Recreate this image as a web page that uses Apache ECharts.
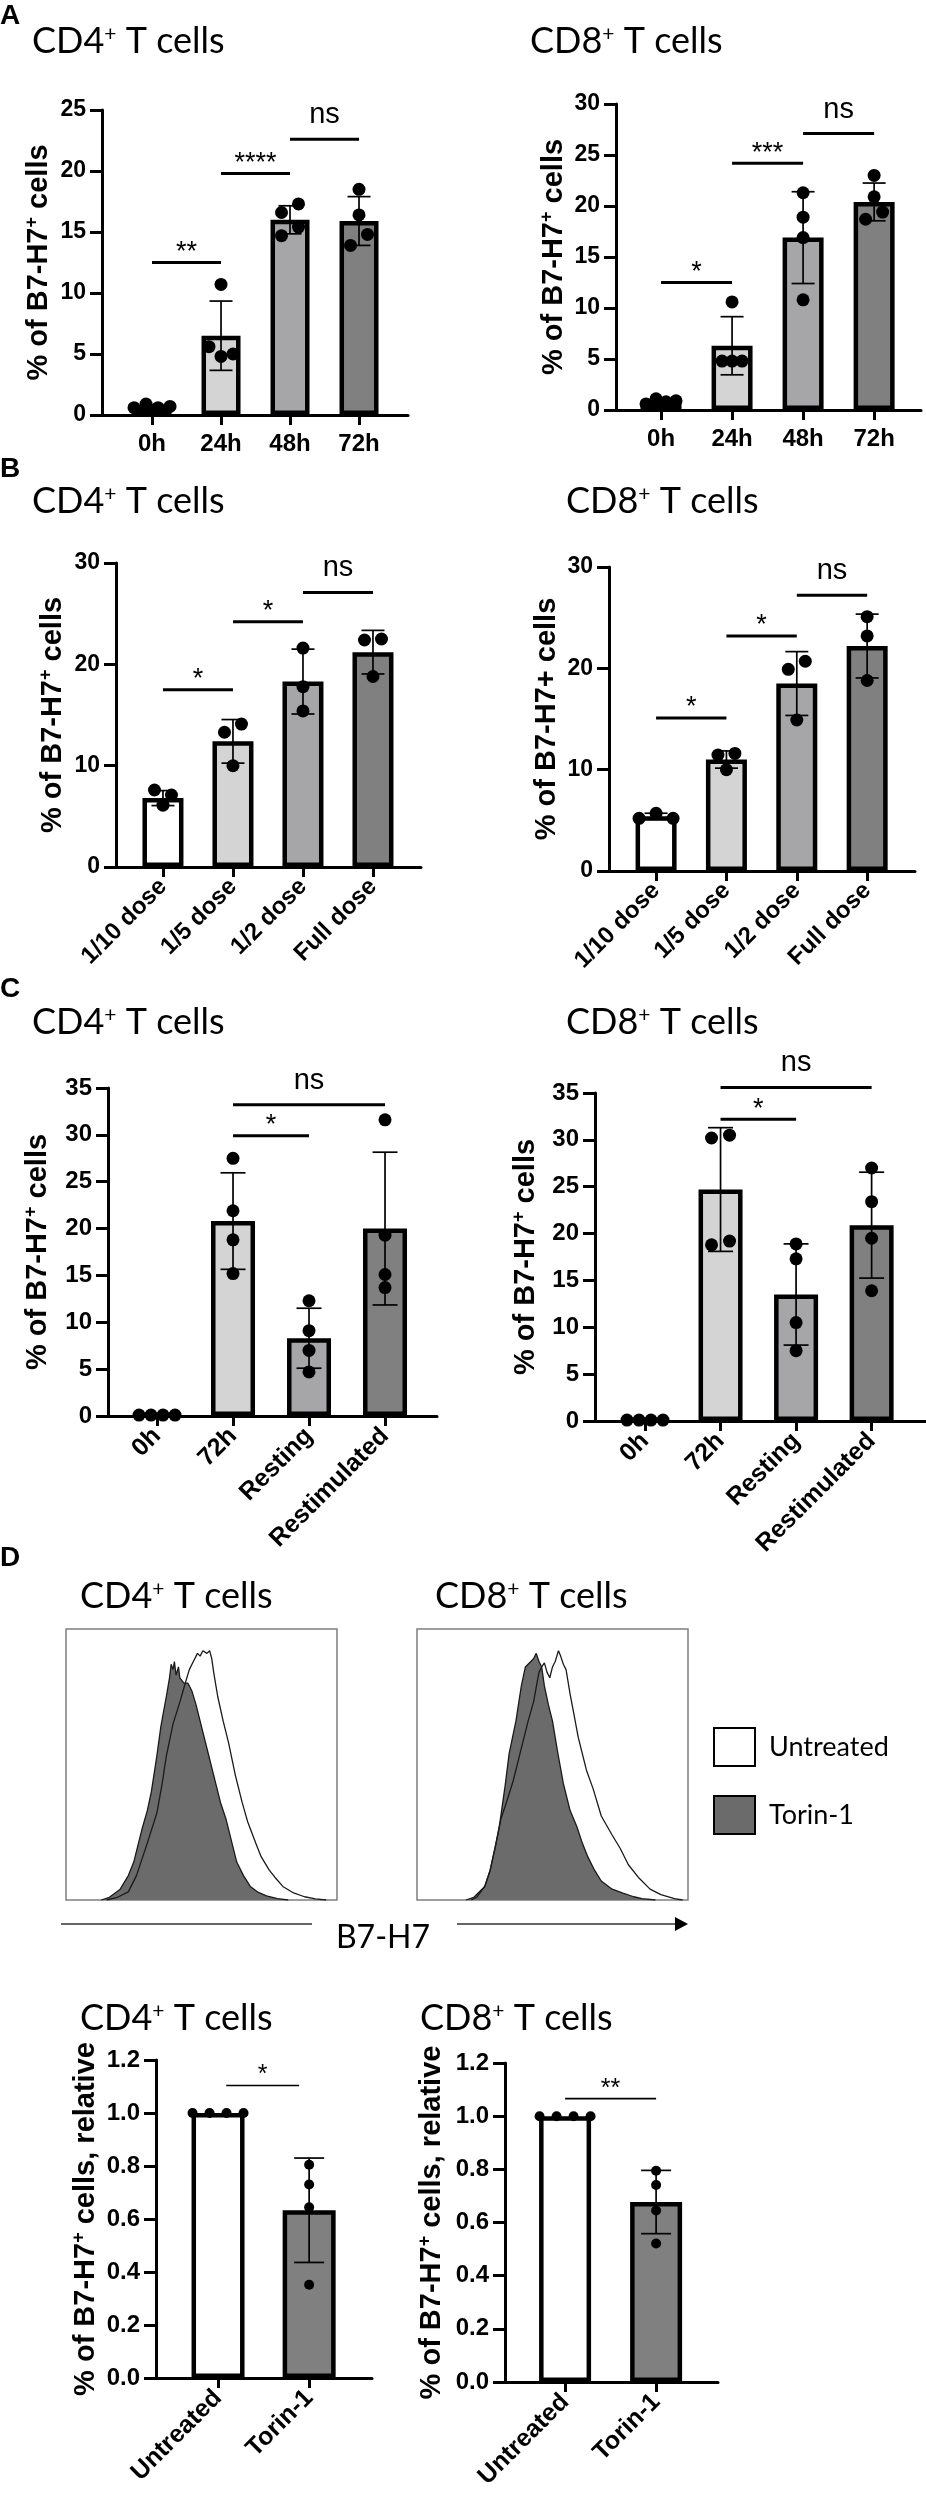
<!DOCTYPE html>
<html><head><meta charset="utf-8">
<script src="https://cdn.jsdelivr.net/npm/echarts@6/dist/echarts.min.js"></script>
<style>html,body{margin:0;padding:0;background:#fff}#c{width:926px;height:2495px}</style>
</head><body><div id="c"></div>
<script>
// ---------------- data ----------------
const catsTime = ['0h', '24h', '48h', '72h'];
const catsDose = ['1/10 dose', '1/5 dose', '1/2 dose', 'Full dose'];
const catsRest = ['0h', '72h', 'Resting', 'Restimulated'];
const catsTorin = ['Untreated', 'Torin-1'];

const barColors4 = ['#ffffff', '#d4d4d4', '#a6a6a9', '#808080'];
const barColors2 = ['#ffffff', '#808080'];

// A
const aCD4Mean = [0.7, 6.5, 16.0, 15.9];
const aCD4SD = [0.15, 2.84, 1.15, 2.0];
const aCD4Dots = [[0.6, 0.9, 0.6, 0.7], [10.7, 5.6, 4.8, 5.0], [16.6, 17.3, 14.7, 15.4], [18.5, 16.4, 13.9, 14.8]];
const aCD4Sig = [[1, 2, 12.5, '**'], [2, 3, 19.8, '****'], [3, 4, 22.6, 'ns']];

const aCD8Mean = [0.8, 6.3, 16.9, 20.4];
const aCD8SD = [0.2, 2.85, 4.5, 1.85];
const aCD8Dots = [[0.6, 1.1, 0.8, 0.9], [10.6, 4.8, 4.8, 4.8], [21.3, 18.9, 16.9, 10.8], [23.0, 20.9, 18.7, 19.4]];
const aCD8Sig = [[1, 2, 12.5, '*'], [2, 3, 24.2, '***'], [3, 4, 27.1, 'ns']];

// B
const bCD4Mean = [6.8, 12.4, 18.3, 21.2];
const bCD4SD = [0.74, 2.15, 3.2, 2.15];
const bCD4Dots = [[7.6, 7.1, 6.1], [13.3, 14.1, 10.0], [21.6, 17.8, 15.4], [22.4, 22.5, 18.8]];
const bCD4Sig = [[1, 2, 17.5, '*'], [2, 3, 24.2, '*'], [3, 4, 27.1, 'ns']];

const bCD8Mean = [5.4, 11.0, 18.5, 22.2];
const bCD8SD = [0.3, 0.85, 3.15, 3.15];
const bCD8Dots = [[5.2, 5.7, 5.2], [11.45, 11.6, 10.0], [19.9, 20.7, 14.9], [25.1, 23.2, 18.8]];
const bCD8Sig = [[1, 2, 15.1, '*'], [2, 3, 23.2, '*'], [3, 4, 27.2, 'ns']];

// C
const cCD4Mean = [0.1, 20.8, 8.3, 20.0];
const cCD4SD = [0, 5.15, 3.2, 8.15];
const cCD4Dots = [[0.1, 0.1, 0.1, 0.1], [27.5, 21.9, 18.8, 15.2], [12.3, 9.1, 7.0, 4.7], [31.6, 19.3, 15.1, 13.7]];
const cCD4Sig = [[2, 3, 29.9, '*'], [2, 4, 33.2, 'ns']];

const cCD8Mean = [0.1, 24.7, 13.5, 20.9];
const cCD8SD = [0, 6.6, 5.4, 5.65];
const cCD8Dots = [[0.1, 0.1, 0.1, 0.1], [30.2, 30.5, 18.8, 19.2], [18.9, 17.3, 10.5, 7.5], [27.0, 23.4, 19.5, 13.9]];
const cCD8Sig = [[2, 3, 32.2, '*'], [2, 4, 35.6, 'ns']];

// D bars
const dCD4Mean = [1.0, 0.633];
const dCD4SD = [0, 0.197];
const dCD4Dots = [[1, 1, 1, 1], [0.805, 0.73, 0.644, 0.352]];
const dCD4Sig = [[1.09, 1.89, 1.104, '*']];

const dCD8Mean = [1.0, 0.677];
const dCD8SD = [0, 0.119];
const dCD8Dots = [[1, 1, 1, 1], [0.795, 0.741, 0.645, 0.521]];
const dCD8Sig = [[1, 2, 1.066, '**']];

// D histograms (x: % of plot width, y: % of plot height)
const histCD4Untreated = [[15,0],[19,1],[23,3],[26,9],[30,21],[33.5,32],[35.5,43],[37,53],[39.5,65],[42,73],[44,80],[45.5,85],[47,88],[48.5,91],[49.5,90],[50.5,92],[52,91],[53,92],[53.8,89],[54.5,84],[56,75],[58,66],[60,58],[62.5,46],[65,36],[67,29],[70,21],[72,16],[75,11],[77,8.5],[80,5],[84,2.6],[88,1.2],[92,0.4],[96,0]];
const histCD4Torin = [[13,0],[16,1],[20,4],[23,9],[25,14],[28,26],[30,33],[31.5,40],[33.5,53],[35,64],[37,75],[38.2,82],[38.8,87],[39.5,85],[40,88],[40.6,83],[41.5,86],[42,82],[43.5,80],[45,80],[46.5,77],[48,72],[50,64],[52,56],[54.5,46],[57,36],[59,30],[61,22],[63,14],[65.5,9],[68,5],[71,2.8],[74,1.5],[78,0.5],[82,0]];
const histCD8Untreated = [[20,0],[22,1],[25,5],[27,11],[30,25],[31,30],[33,36],[35.5,44],[38,54],[41,66],[43,73],[45,84],[46,86],[47,87.5],[48,84],[49,82],[50,86],[51,88],[52.2,92],[53,90],[54,87],[55,85],[56.5,76],[58,68],[59.5,60],[62.5,48],[65,41],[68,31],[72,24],[75,19],[78,13],[82,8],[86,4],[90,2],[95,0.5],[98,0]];
const histCD8Torin = [[18,0],[21,1],[25,5],[27,11],[29,20],[30.5,28],[32.5,42],[34,54],[36.5,66],[38.5,79],[40,86],[41,87],[42,88],[43,89],[44,91],[45,88],[46,86],[47,79],[48.5,72],[50,66],[52,54],[54,43],[56.5,33],[59,27],[61,21],[63,16],[65.5,11],[68,7],[72,4],[76,2.5],[80,1.2],[83,0.5],[88,0]];

// ---------------- layout / styling ----------------
const FONT = '"Liberation Sans", Arial, sans-serif';
const TFONT = 'Lato, "Open Sans", sans-serif';

const supName = (a, b) => '{b|' + a + '}{s|+}{b|' + b + '}';

const panels = [
  {cats: catsTime, mean: aCD4Mean, sd: aCD4SD, dots: aCD4Dots, sig: aCD4Sig, colors: barColors4, yName: supName('% of B7-H7', ' cells'), yMax: 25, yStep: 5,
   L: {left: 102, top: 110, width: 306, height: 305, xMin: 0.275, xMax: 4.71, barW: 39, dot: 13, sp2: 17, spN: 12, cap: 23, nameGap: 47, rotate: 0, margin: 17, lab: 24, tick: 23, sigW: 3, star: 27}},
  {cats: catsTime, mean: aCD8Mean, sd: aCD8SD, dots: aCD8Dots, sig: aCD8Sig, colors: barColors4, yName: supName('% of B7-H7', ' cells'), yMax: 30, yStep: 5,
   L: {left: 616, top: 104, width: 305, height: 306, xMin: 0.366, xMax: 4.66, barW: 41, dot: 13, sp2: 17, spN: 10, cap: 23, nameGap: 46, rotate: 0, margin: 17, lab: 24, tick: 23, sigW: 3, star: 27}},
  {cats: catsDose, mean: bCD4Mean, sd: bCD4SD, dots: bCD4Dots, sig: bCD4Sig, colors: barColors4, yName: supName('% of B7-H7', ' cells'), yMax: 30, yStep: 10,
   L: {left: 116, top: 563, width: 305, height: 304, xMin: 0.329, xMax: 4.686, barW: 41, dot: 13, sp2: 17, spN: 17, cap: 23, nameGap: 47, rotate: 45, margin: 16, lab: 24, tick: 23, sigW: 3, star: 27}},
  {cats: catsDose, mean: bCD8Mean, sd: bCD8SD, dots: bCD8Dots, sig: bCD8Sig, colors: barColors4, yName: '{b|% of B7-H7+ cells}', yMax: 30, yStep: 10,
   L: {left: 609, top: 567, width: 306, height: 304, xMin: 0.331, xMax: 4.68, barW: 41, dot: 13, sp2: 17, spN: 17, cap: 23, nameGap: 46, rotate: 45, margin: 16, lab: 24, tick: 23, sigW: 3, star: 27}},
  {cats: catsRest, mean: cCD4Mean, sd: cCD4SD, dots: cCD4Dots, sig: cCD4Sig, colors: barColors4, yName: supName('% of B7-H7', ' cells'), yMax: 35, yStep: 5,
   L: {left: 108, top: 1088, width: 329, height: 328, xMin: 0.355, xMax: 4.684, barW: 44, dot: 13, sp2: 17, spN: 12, cap: 25, nameGap: 54, rotate: 45, margin: 16, lab: 25, tick: 24, sigW: 3, star: 27}},
  {cats: catsRest, mean: cCD8Mean, sd: cCD8SD, dots: cCD8Dots, sig: cCD8Sig, colors: barColors4, yName: supName('% of B7-H7', ' cells'), yMax: 35, yStep: 5,
   L: {left: 595, top: 1093, width: 331, height: 328, xMin: 0.338, xMax: 4.72, barW: 44, dot: 13, sp2: 18, spN: 12, cap: 25, nameGap: 53, rotate: 45, margin: 16, lab: 25, tick: 24, sigW: 3, star: 27}},
  {cats: catsTorin, mean: dCD4Mean, sd: dCD4SD, dots: dCD4Dots, sig: dCD4Sig, colors: barColors2, yName: supName('% of B7-H7', ' cells, relative'), yMax: 1.2, yStep: 0.2, fmt: v => v.toFixed(1),
   L: {left: 156, top: 2060, width: 216, height: 318, xMin: 0.319, xMax: 2.69, barW: 53, dot: 10, sp2: 17, spN: 17, cap: 30, nameGap: 54, rotate: 45, margin: 16, lab: 25, tick: 24, sigW: 1.6, star: 25}},
  {cats: catsTorin, mean: dCD8Mean, sd: dCD8SD, dots: dCD8Dots, sig: dCD8Sig, colors: barColors2, yName: supName('% of B7-H7', ' cells, relative'), yMax: 1.2, yStep: 0.2, fmt: v => v.toFixed(1),
   L: {left: 505, top: 2063, width: 213, height: 319, xMin: 0.34, xMax: 2.68, barW: 52, dot: 10, sp2: 17, spN: 17, cap: 30, nameGap: 57, rotate: 45, margin: 16, lab: 25, tick: 24, sigW: 1.6, star: 25}}
];

const hists = [
  {untr: histCD4Untreated, torin: histCD4Torin, L: {left: 66, top: 1629, width: 271, height: 271}},
  {untr: histCD8Untreated, torin: histCD8Torin, L: {left: 417, top: 1629, width: 271, height: 271}}
];

const grid = [], xAxis = [], yAxis = [], series = [];

panels.forEach((p, k) => {
  const L = p.L;
  grid.push({left: L.left, top: L.top, width: L.width, height: L.height, containLabel: false, outerBoundsMode: 'none'});
  const ticks = p.cats.map((c, i) => i + 1);
  xAxis.push({
    gridIndex: k, type: 'value', min: L.xMin, max: L.xMax,
    axisLine: {show: true, onZero: false, lineStyle: {color: '#000', width: 3}},
    axisTick: {show: true, customValues: ticks, length: 10, lineStyle: {color: '#000', width: 3}},
    axisLabel: {show: true, customValues: ticks, formatter: v => p.cats[Math.round(v) - 1] || '', rotate: L.rotate, margin: L.margin,
      color: '#000', fontFamily: FONT, fontWeight: 'bold', fontSize: L.lab},
    splitLine: {show: false}
  });
  yAxis.push({
    gridIndex: k, type: 'value', min: 0, max: p.yMax, interval: p.yStep,
    axisLine: {show: true, lineStyle: {color: '#000', width: 3}},
    axisTick: {show: true, length: 12, lineStyle: {color: '#000', width: 3}},
    axisLabel: {color: '#000', fontFamily: FONT, fontWeight: 'bold', fontSize: L.tick, margin: 16, formatter: p.fmt},
    splitLine: {show: false},
    name: p.yName, nameLocation: 'middle', nameGap: L.nameGap, nameRotate: 90,
    nameTextStyle: {color: '#000', lineHeight: 32, rich: {
      b: {fontFamily: FONT, fontWeight: 'bold', fontSize: 29, color: '#000'},
      s: {fontFamily: FONT, fontWeight: 'bold', fontSize: 18, color: '#000', verticalAlign: 'top'}
    }}
  });
  // bars
  series.push({
    type: 'bar', xAxisIndex: k, yAxisIndex: k, barWidth: L.barW, z: 2, silent: true,
    data: p.mean.map((m, i) => ({value: [i + 1, m], itemStyle: {color: p.colors[i]}})),
    itemStyle: {borderColor: '#000', borderWidth: 4.5}
  });
  // error bars
  series.push({
    type: 'custom', xAxisIndex: k, yAxisIndex: k, z: 3, silent: true,
    data: p.mean.map((m, i) => [i + 1, m, p.sd[i]]),
    encode: {x: 0, y: 1},
    renderItem: (params, api) => {
      const x = api.value(0), m = api.value(1), s = api.value(2);
      if (!s) return {type: 'group', children: []};
      const t = api.coord([x, m + s]), b = api.coord([x, m - s]);
      const c = L.cap / 2, st = {stroke: '#000', lineWidth: 1.7};
      return {type: 'group', children: [
        {type: 'line', shape: {x1: t[0], y1: t[1], x2: b[0], y2: b[1]}, style: st},
        {type: 'line', shape: {x1: t[0] - c, y1: t[1], x2: t[0] + c, y2: t[1]}, style: st},
        {type: 'line', shape: {x1: b[0] - c, y1: b[1], x2: b[0] + c, y2: b[1]}, style: st}
      ]};
    }
  });
  // dots
  series.push({
    type: 'custom', xAxisIndex: k, yAxisIndex: k, z: 4, silent: true,
    data: p.dots.map((d, i) => [i + 1, d[0]]),
    encode: {x: 0, y: 1},
    renderItem: (params, api) => {
      const i = params.dataIndex, vals = p.dots[i];
      const cx = api.coord([i + 1, 0])[0];
      const py = vals.map(v => api.coord([i + 1, v])[1]);
      const order = py.map((y, j) => j).sort((a, b) => py[a] - py[b]);
      const off = vals.map(() => 0);
      let cl = [];
      const flush = () => {
        const n = cl.length; if (!n) return;
        const sp = n > 2 ? L.spN : L.sp2;
        cl.slice().sort((a, b) => a - b).forEach((j, q) => { off[j] = (q - (n - 1) / 2) * sp; });
      };
      order.forEach(j => {
        if (cl.length && py[j] - py[cl[0]] > L.dot) { flush(); cl = []; }
        cl.push(j);
      });
      flush();
      return {type: 'group', children: vals.map((v, j) => ({
        type: 'circle', shape: {cx: cx + off[j], cy: py[j], r: L.dot / 2}, style: {fill: '#000'}
      }))};
    }
  });
  // significance
  series.push({
    type: 'custom', xAxisIndex: k, yAxisIndex: k, z: 5, silent: true, clip: false,
    data: p.sig.map(s => [s[0], s[1], s[2]]),
    encode: {x: [0, 1], y: 2},
    renderItem: (params, api) => {
      const s = p.sig[params.dataIndex];
      const a = api.coord([s[0], s[2]]), b = api.coord([s[1], s[2]]);
      const ns = s[3] === 'ns';
      return {type: 'group', children: [
        {type: 'line', shape: {x1: a[0], y1: a[1], x2: b[0], y2: a[1]}, style: {stroke: '#000', lineWidth: L.sigW}},
        {type: 'text', x: (a[0] + b[0]) / 2, y: a[1] - (ns ? 24 : 10),
         style: {text: s[3], fill: '#000', fontFamily: FONT, fontSize: ns ? 29 : L.star,
                 align: 'center', verticalAlign: 'middle', textAlign: 'center', textVerticalAlign: 'middle'}}
      ]};
    }
  });
});

hists.forEach((h, q) => {
  const k = grid.length;
  grid.push({left: h.L.left, top: h.L.top, width: h.L.width, height: h.L.height, containLabel: false, outerBoundsMode: 'none',
    show: true, borderColor: '#7f7f7f', borderWidth: 1.5, backgroundColor: 'transparent'});
  xAxis.push({gridIndex: k, type: 'value', min: 0, max: 100, show: false});
  yAxis.push({gridIndex: k, type: 'value', min: 0, max: 100, show: false});
  series.push({type: 'line', name: 'Torin-1', xAxisIndex: k, yAxisIndex: k, data: h.torin, symbol: 'none', z: 2, silent: true,
    lineStyle: {color: '#1a1a1a', width: 1.3}, itemStyle: {color: '#6b6b6b'}, areaStyle: {color: '#6b6b6b', opacity: 1}});
  series.push({type: 'line', name: 'Untreated', xAxisIndex: k, yAxisIndex: k, data: h.untr, symbol: 'none', z: 3, silent: true,
    lineStyle: {color: '#1a1a1a', width: 1.3}, itemStyle: {color: '#ffffff'}});
});

// ---------------- free text ----------------
const titleRich = {
  m: {fontFamily: TFONT, fontSize: 36, color: '#000'},
  s: {fontFamily: TFONT, fontSize: 21, color: '#000', verticalAlign: 'top'}
};
const titles = [
  ['4', 32, 41.5], ['8', 530, 41.5],
  ['4', 32, 501.5], ['8', 566, 501.5],
  ['4', 32, 1022.5], ['8', 566, 1022.5],
  ['4', 80, 1596.5], ['8', 435, 1596.5],
  ['4', 80, 2018.5], ['8', 420, 2018.5]
];
const letters = [['A', 16], ['B', 469], ['C', 989], ['D', 1558]];

const graphic = [];
titles.forEach(t => graphic.push({
  type: 'text', x: t[1], y: t[2], silent: true,
  style: {text: '{m|CD' + t[0] + '}{s|+}{m| T cells}', rich: titleRich, align: 'left', verticalAlign: 'middle'}
}));
letters.forEach(l => graphic.push({
  type: 'text', x: 0, y: l[1], silent: true,
  style: {text: l[0], fill: '#000', fontFamily: FONT, fontWeight: 'bold', fontSize: 28, align: 'left', verticalAlign: 'middle'}
}));
graphic.push(
  {type: 'line', silent: true, shape: {x1: 61, y1: 1924, x2: 312, y2: 1924}, style: {stroke: '#333', lineWidth: 1.5}},
  {type: 'line', silent: true, shape: {x1: 457, y1: 1924, x2: 677, y2: 1924}, style: {stroke: '#333', lineWidth: 1.5}},
  {type: 'polygon', silent: true, shape: {points: [[675, 1917], [688, 1924], [675, 1931]]}, style: {fill: '#000'}},
  {type: 'text', x: 383, y: 1938, silent: true,
   style: {text: 'B7-H7', fill: '#000', fontFamily: TFONT, fontSize: 32, align: 'center', verticalAlign: 'middle'}}
);

const chart = echarts.init(document.getElementById('c'), null, {renderer: 'canvas', width: 926, height: 2495});
chart.setOption({
  animation: false,
  backgroundColor: '#ffffff',
  grid, xAxis, yAxis, series, graphic,
  legend: {
    orient: 'vertical', left: 708, top: 1722, itemWidth: 41, itemHeight: 38, itemGap: 28, selectedMode: false,
    textStyle: {fontFamily: TFONT, fontSize: 27, color: '#000', padding: [0, 0, 0, 9]},
    data: [
      {name: 'Untreated', icon: 'rect', itemStyle: {color: '#ffffff', borderColor: '#000', borderWidth: 2}},
      {name: 'Torin-1', icon: 'rect', itemStyle: {color: '#6b6b6b', borderColor: '#000', borderWidth: 2}}
    ]
  }
});
</script>
</body></html>
